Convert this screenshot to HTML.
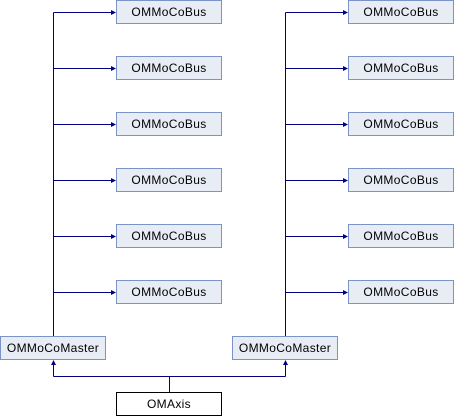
<!DOCTYPE html>
<html><head><meta charset="utf-8"><style>html,body{margin:0;padding:0;background:#fff}svg{display:block}</style></head>
<body>
<svg width="454" height="416" xmlns="http://www.w3.org/2000/svg" font-family="Liberation Sans, Arial, sans-serif" font-size="12">
<g stroke="#000080" stroke-width="1" fill="none">
<path d="M53.5,336 V12.5 M285.5,336 V12.5"/>
<path d="M53.5,12.5H111 M53.5,68.5H111 M53.5,124.5H111 M53.5,180.5H111 M53.5,236.5H111 M53.5,292.5H111"/>
<path d="M285.5,12.5H343 M285.5,68.5H343 M285.5,124.5H343 M285.5,180.5H343 M285.5,236.5H343 M285.5,292.5H343"/>
<path d="M169.5,392V376.5 M53.5,376.5H285.5 M53.5,376.5V365 M285.5,376.5V365"/>
</g>
<g fill="#000080">
<path d="M111,10 L116,12.5 L111,15Z M111,66 L116,68.5 L111,71Z M111,122 L116,124.5 L111,127Z M111,178 L116,180.5 L111,183Z M111,234 L116,236.5 L111,239Z M111,290 L116,292.5 L111,295Z"/>
<path d="M343,10 L348,12.5 L343,15Z M343,66 L348,68.5 L343,71Z M343,122 L348,124.5 L343,127Z M343,178 L348,180.5 L343,183Z M343,234 L348,236.5 L343,239Z M343,290 L348,292.5 L343,295Z"/>
<path d="M51,365 L53.5,360 L56,365Z M283,365 L285.5,360 L288,365Z"/>
</g>
<g fill="#e8ecf5" stroke="#7b93c9" stroke-width="1">
<rect x="116.5" y="0.5" width="105" height="23"/><rect x="116.5" y="56.5" width="105" height="23"/><rect x="116.5" y="112.5" width="105" height="23"/><rect x="116.5" y="168.5" width="105" height="23"/><rect x="116.5" y="224.5" width="105" height="23"/><rect x="116.5" y="280.5" width="105" height="23"/>
<rect x="348.5" y="0.5" width="105" height="23"/><rect x="348.5" y="56.5" width="105" height="23"/><rect x="348.5" y="112.5" width="105" height="23"/><rect x="348.5" y="168.5" width="105" height="23"/><rect x="348.5" y="224.5" width="105" height="23"/><rect x="348.5" y="280.5" width="105" height="23"/>
<rect x="0.5" y="336.5" width="105" height="23"/><rect x="232.5" y="336.5" width="105" height="23"/>
</g>
<rect x="116.5" y="392.5" width="105" height="23" fill="#fff" stroke="#000"/>
<g fill="#000" text-anchor="middle" letter-spacing="0.35">
<text x="169" y="16">OMMoCoBus</text><text x="169" y="72">OMMoCoBus</text><text x="169" y="128">OMMoCoBus</text><text x="169" y="184">OMMoCoBus</text><text x="169" y="240">OMMoCoBus</text><text x="169" y="296">OMMoCoBus</text>
<text x="401" y="16">OMMoCoBus</text><text x="401" y="72">OMMoCoBus</text><text x="401" y="128">OMMoCoBus</text><text x="401" y="184">OMMoCoBus</text><text x="401" y="240">OMMoCoBus</text><text x="401" y="296">OMMoCoBus</text>
<text x="53" y="352">OMMoCoMaster</text><text x="285" y="352">OMMoCoMaster</text>
<text x="169" y="408">OMAxis</text>
</g>
</svg>
</body></html>
